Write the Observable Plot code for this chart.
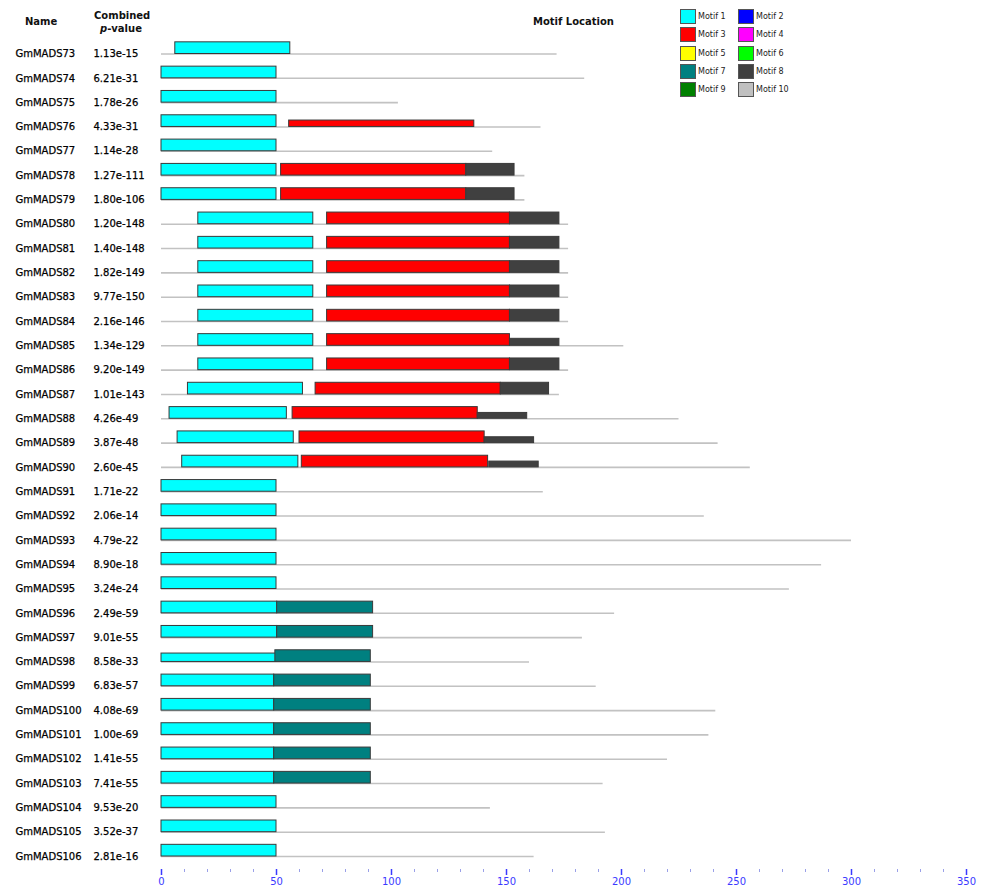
<!DOCTYPE html>
<html>
<head>
<meta charset="utf-8">
<script src="https://cdn.jsdelivr.net/npm/d3@7"></script>
<script src="https://cdn.jsdelivr.net/npm/@observablehq/plot@0.6"></script>
<style>
  body { margin: 0; background: #fff; font-family: "DejaVu Sans", Verdana, sans-serif; }
  #wrap { position: relative; width: 987px; height: 887px; overflow: hidden; }
  #wrap svg { position: absolute; left: 0; top: 0; }
  .hdr { position: absolute; font-weight: bold; font-size: 10px; color: #111; white-space: nowrap; line-height: 1; }
  .lgbox { position: absolute; width: 14px; height: 13px; border: 1px solid #555; }
  .lgtxt { position: absolute; font-size: 8px; color: #222; white-space: nowrap; line-height: 1; }
</style>
</head>
<body>
<div id="wrap"></div>
<script>
// ---- data ----
const names = ["GmMADS73","GmMADS74","GmMADS75","GmMADS76","GmMADS77","GmMADS78","GmMADS79","GmMADS80","GmMADS81","GmMADS82","GmMADS83","GmMADS84","GmMADS85","GmMADS86","GmMADS87","GmMADS88","GmMADS89","GmMADS90","GmMADS91","GmMADS92","GmMADS93","GmMADS94","GmMADS95","GmMADS96","GmMADS97","GmMADS98","GmMADS99","GmMADS100","GmMADS101","GmMADS102","GmMADS103","GmMADS104","GmMADS105","GmMADS106"];
const pvalues = ["1.13e-15","6.21e-31","1.78e-26","4.33e-31","1.14e-28","1.27e-111","1.80e-106","1.20e-148","1.40e-148","1.82e-149","9.77e-150","2.16e-146","1.34e-129","9.20e-149","1.01e-143","4.26e-49","3.87e-48","2.60e-45","1.71e-22","2.06e-14","4.79e-22","8.90e-18","3.24e-24","2.49e-59","9.01e-55","8.58e-33","6.83e-57","4.08e-69","1.00e-69","1.41e-55","7.41e-55","9.53e-20","3.52e-37","2.81e-16"];
const seqLengths = [172,184,103,165,144,158,158,177,177,177,177,177,201,177,173,225,242,256,166,236,300,287,273,197,183,160,189,241,238,220,192,143,193,162];

const motifNames = ["Motif 1","Motif 2","Motif 3","Motif 4","Motif 5","Motif 6","Motif 7","Motif 8","Motif 9","Motif 10"];
const motifColors = ["#00ffff","#0000ff","#ff0000","#ff00ff","#ffff00","#00ff00","#008080","#404040","#008000","#c0c0c0"];

// motif sites: gene, motif, start, end, relative box height
const siteGene = [
  "GmMADS73","GmMADS74","GmMADS75",
  "GmMADS76","GmMADS76",
  "GmMADS77",
  "GmMADS78","GmMADS78","GmMADS78",
  "GmMADS79","GmMADS79","GmMADS79",
  "GmMADS80","GmMADS80","GmMADS80",
  "GmMADS81","GmMADS81","GmMADS81",
  "GmMADS82","GmMADS82","GmMADS82",
  "GmMADS83","GmMADS83","GmMADS83",
  "GmMADS84","GmMADS84","GmMADS84",
  "GmMADS85","GmMADS85","GmMADS85",
  "GmMADS86","GmMADS86","GmMADS86",
  "GmMADS87","GmMADS87","GmMADS87",
  "GmMADS88","GmMADS88","GmMADS88",
  "GmMADS89","GmMADS89","GmMADS89",
  "GmMADS90","GmMADS90","GmMADS90",
  "GmMADS91","GmMADS92","GmMADS93","GmMADS94","GmMADS95",
  "GmMADS96","GmMADS96",
  "GmMADS97","GmMADS97",
  "GmMADS98","GmMADS98",
  "GmMADS99","GmMADS99",
  "GmMADS100","GmMADS100",
  "GmMADS101","GmMADS101",
  "GmMADS102","GmMADS102",
  "GmMADS103","GmMADS103",
  "GmMADS104","GmMADS105","GmMADS106"
];
const siteMotif = [
  "Motif 1","Motif 1","Motif 1",
  "Motif 1","Motif 3",
  "Motif 1",
  "Motif 1","Motif 3","Motif 8",
  "Motif 1","Motif 3","Motif 8",
  "Motif 1","Motif 3","Motif 8",
  "Motif 1","Motif 3","Motif 8",
  "Motif 1","Motif 3","Motif 8",
  "Motif 1","Motif 3","Motif 8",
  "Motif 1","Motif 3","Motif 8",
  "Motif 1","Motif 3","Motif 8",
  "Motif 1","Motif 3","Motif 8",
  "Motif 1","Motif 3","Motif 8",
  "Motif 1","Motif 3","Motif 8",
  "Motif 1","Motif 3","Motif 8",
  "Motif 1","Motif 3","Motif 8",
  "Motif 1","Motif 1","Motif 1","Motif 1","Motif 1",
  "Motif 1","Motif 7",
  "Motif 1","Motif 7",
  "Motif 1","Motif 7",
  "Motif 1","Motif 7",
  "Motif 1","Motif 7",
  "Motif 1","Motif 7",
  "Motif 1","Motif 7",
  "Motif 1","Motif 7",
  "Motif 1","Motif 1","Motif 1"
];
const siteStart = [
  6,0,0,
  0,55.5,
  0,
  0,52,132.5,
  0,52,132.5,
  16,72,151.5,
  16,72,151.5,
  16,72,151.5,
  16,72,151.5,
  16,72,151.5,
  16,72,151.5,
  16,72,151.5,
  11.5,67,147.5,
  3.5,57,137.5,
  7,60,140.5,
  9,61,142.5,
  0,0,0,0,0,
  0,50.3,
  0,50.3,
  0,49.5,
  0,49,
  0,49,
  0,49,
  0,49,
  0,49,
  0,0,0
];
const siteEnd = [
  56,50,50,
  50,136,
  50,
  50,132.5,153.5,
  50,132.5,153.5,
  66,151.5,173,
  66,151.5,173,
  66,151.5,173,
  66,151.5,173,
  66,151.5,173,
  66,151.5,173,
  66,151.5,173,
  61.5,147.5,168.5,
  54.5,137.5,159,
  57.5,140.5,162,
  59.5,142,164,
  50,50,50,50,50,
  50.3,92,
  50.3,92,
  50,91,
  49,91,
  49,91,
  49,91,
  49,91,
  49,91,
  50,50,50
];
const siteHeight = [
  1,1,1,
  1,0.55,
  1,
  1,1,1,
  1,1,1,
  1,1,1,
  1,1,1,
  1,1,1,
  1,1,1,
  1,1,1,
  1,1,0.6,
  1,1,1,
  1,1,1,
  1,1,0.5,
  1,1,0.5,
  1,1,0.5,
  1,1,1,1,1,
  1,1,
  1,1,
  0.72,1,
  1,1,
  1,1,
  1,1,
  1,1,
  1,1,
  1,1,1
];
const axisTicks = [0,50,100,150,200,250,300,350];
const minorTicks = [10,20,30,40,60,70,80,90,110,120,130,140,160,170,180,190,210,220,230,240,260,270,280,290,310,320,330,340];

// ---- build tables ----
const rowIndex = new Map(names.map((n, i) => [n, i]));
const rows = names.map((n, i) => ({i, name: n, p: pvalues[i], len: seqLengths[i]}));
const sites = siteGene.map((g, k) => ({
  i: rowIndex.get(g), motif: siteMotif[k], start: siteStart[k], end: siteEnd[k], h: siteHeight[k]
}));

const W = 987, H = 887;
const chart = Plot.plot({
  width: W,
  height: H,
  marginLeft: 161,
  marginRight: 21,
  marginTop: 40,
  marginBottom: 18,
  style: {fontFamily: "DejaVu Sans, Verdana, sans-serif", background: "transparent"},
  x: {domain: [0, 350]},
  y: {domain: [0, names.length - 1], range: [53.5, 856], axis: null},
  color: {domain: motifNames, range: motifColors},
  marks: [
    Plot.ruleY(rows, {y: "i", x1: 0, x2: "len", stroke: "#c2c2c2", strokeWidth: 1.6}),
    Plot.rect(sites, {
      x1: "start", x2: "end",
      y1: "i", y2: d => d.i - 0.48 * d.h,
      fill: "motif", stroke: "#3a3a3a", strokeWidth: 1
    }),
    Plot.text(rows, {y: "i", text: "name", frameAnchor: "left", textAnchor: "start", dx: -146, fontSize: 10, fill: "#000", stroke: "#000", strokeWidth: 0.25}),
    Plot.text(rows, {y: "i", text: "p", frameAnchor: "left", textAnchor: "start", dx: -68, fontSize: 10, fill: "#000", stroke: "#000", strokeWidth: 0.25}),
    Plot.axisX({ticks: minorTicks, tickSize: 3, tickFormat: () => "", stroke: "#9aa0e8", strokeWidth: 1}),
    Plot.axisX({ticks: axisTicks, tickSize: 6, tickPadding: 2, fontSize: 10, color: "#3a3aff", strokeWidth: 1.5, label: null})
  ]
});
const wrap = document.getElementById("wrap");
wrap.appendChild(chart);

// ---- headers ----
function addDiv(cls, html, left, top, extra) {
  const d = document.createElement("div");
  d.className = cls;
  d.innerHTML = html;
  d.style.left = left + "px";
  d.style.top = top + "px";
  if (extra) Object.assign(d.style, extra);
  wrap.appendChild(d);
  return d;
}
addDiv("hdr", "Name", 25, 17);
addDiv("hdr", "Combined", 94, 11);
addDiv("hdr", "<i>p</i>-value", 100, 24);
addDiv("hdr", "Motif Location", 533, 17);

// ---- legend ----
motifNames.forEach((m, k) => {
  const col = k % 2, row = Math.floor(k / 2);
  const left = 680 + col * 58, top = 9 + row * 18.3;
  addDiv("lgbox", "", left, top, {background: motifColors[k]});
  addDiv("lgtxt", m, left + 18, top + 4);
});
</script>
</body>
</html>
